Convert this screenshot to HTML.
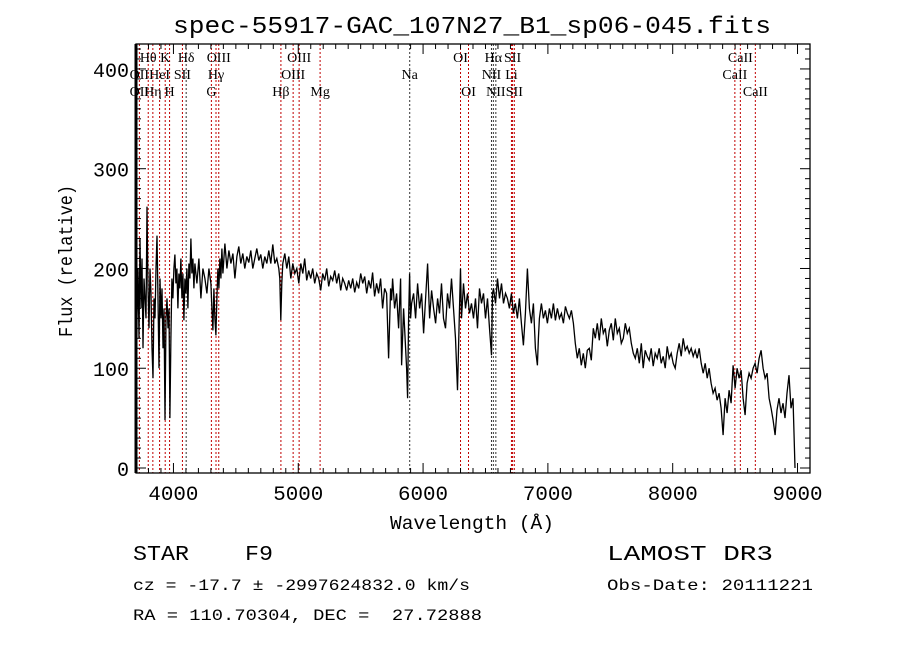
<!DOCTYPE html>
<html><head><meta charset="utf-8"><style>
html,body{margin:0;padding:0;background:#fff;}
svg{display:block;}
text{font-family:"Liberation Mono",monospace;fill:#000;white-space:pre;}
.ll{font-family:"Liberation Serif",serif;font-size:14px;}
</style></head><body>
<svg id="chart" width="900" height="649" viewBox="0 0 900 649" xmlns="http://www.w3.org/2000/svg" xml:space="preserve">
<rect width="900" height="649" fill="#fff"/>
<text x="472" y="33" font-size="24" text-anchor="middle" textLength="598" lengthAdjust="spacingAndGlyphs">spec-55917-GAC_107N27_B1_sp06-045.fits</text>
<g id="lines"></g>
<g id="labels"></g>
<path id="spec" fill="none" stroke="#000" stroke-width="1.3"/>
<g id="axes"></g>
<text x="472" y="529" font-size="19" text-anchor="middle" textLength="164" lengthAdjust="spacingAndGlyphs">Wavelength (Å)</text>
<text transform="translate(72,261) rotate(-90)" font-size="19" text-anchor="middle" textLength="152" lengthAdjust="spacingAndGlyphs">Flux (relative)</text>
<text x="133" y="560" font-size="21" textLength="140" lengthAdjust="spacingAndGlyphs">STAR    F9</text>
<text x="607" y="560" font-size="21" textLength="166" lengthAdjust="spacingAndGlyphs">LAMOST DR3</text>
<text x="133" y="590" font-size="16" textLength="337" lengthAdjust="spacingAndGlyphs">cz = -17.7 ± -2997624832.0 km/s</text>
<text x="607" y="590" font-size="16" textLength="206" lengthAdjust="spacingAndGlyphs">Obs-Date: 20111221</text>
<text x="133" y="620" font-size="16" textLength="349" lengthAdjust="spacingAndGlyphs">RA = 110.70304, DEC =  27.72888</text>
</svg>
<script>
const wavelengths=[3700,3708,3716,3724,3732,3740,3748,3756,3764,3780,3788,3796,3804,3812,3820,3828,3836,3844,3852,3860,3868,3876,3884,3892,3900,3908,3916,3924,3932,3940,3948,3956,3964,3972,3980,3988,3996,4004,4012,4020,4028,4036,4044,4052,4060,4068,4076,4084,4092,4100,4108,4116,4124,4132,4140,4148,4156,4164,4172,4188,4204,4220,4236,4252,4268,4284,4300,4308,4316,4324,4332,4340,4348,4356,4364,4372,4380,4388,4396,4412,4428,4444,4460,4476,4492,4508,4524,4540,4556,4572,4588,4604,4620,4636,4652,4668,4684,4700,4716,4732,4748,4764,4780,4796,4812,4828,4844,4852,4860,4868,4876,4892,4908,4924,4940,4956,4972,4988,5004,5020,5036,5052,5068,5084,5100,5116,5132,5148,5164,5180,5196,5212,5228,5244,5260,5276,5292,5308,5324,5340,5356,5372,5388,5404,5420,5436,5452,5468,5484,5500,5516,5532,5548,5564,5580,5596,5612,5628,5644,5660,5676,5692,5708,5724,5740,5748,5756,5772,5788,5804,5820,5828,5844,5852,5868,5876,5884,5892,5900,5908,5924,5940,5956,5972,5988,6004,6020,6036,6052,6068,6084,6100,6116,6132,6148,6164,6180,6196,6212,6228,6244,6260,6276,6292,6300,6308,6324,6340,6356,6372,6388,6404,6420,6436,6452,6468,6484,6500,6516,6532,6548,6556,6564,6580,6596,6612,6628,6644,6660,6676,6692,6708,6724,6740,6756,6772,6788,6804,6820,6836,6852,6868,6884,6900,6916,6924,6932,6948,6964,6980,6996,7012,7028,7044,7060,7076,7092,7108,7124,7140,7156,7172,7188,7204,7220,7236,7252,7268,7284,7300,7316,7332,7348,7364,7380,7396,7412,7428,7444,7460,7476,7492,7508,7524,7540,7556,7572,7588,7604,7620,7636,7652,7668,7684,7700,7716,7732,7748,7764,7780,7796,7812,7828,7844,7860,7876,7892,7908,7924,7940,7956,7972,7988,8004,8020,8036,8052,8068,8084,8100,8116,8132,8148,8164,8180,8196,8212,8228,8244,8260,8276,8292,8308,8324,8340,8356,8372,8388,8404,8420,8436,8452,8468,8484,8500,8516,8532,8548,8564,8580,8596,8612,8628,8644,8660,8676,8692,8708,8724,8740,8756,8772,8788,8804,8820,8836,8852,8868,8884,8900,8916,8932,8948,8964,8980,8996];
const flux=[0,150,200,130,230,160,210,120,190,150,262,180,140,200,175,120,90,170,150,200,233,170,100,190,150,180,120,160,48,150,170,140,160,50,130,190,170,200,214,185,200,160,195,180,210,170,195,148,190,175,200,160,205,190,230,195,210,180,205,185,210,170,200,190,175,200,185,160,138,180,150,133,170,200,180,210,190,220,195,225,200,218,205,215,190,212,222,205,215,200,212,206,218,200,210,220,208,214,200,212,205,218,205,224,205,210,200,190,148,185,205,215,200,212,190,205,195,200,185,205,195,210,188,198,190,200,185,195,190,178,195,188,200,182,192,188,198,185,195,178,190,185,178,188,180,190,176,186,180,195,185,192,175,188,180,196,172,185,175,190,160,180,175,110,180,168,190,160,175,140,190,103,160,140,100,70,150,195,150,165,175,150,185,160,175,135,170,205,150,178,160,145,170,155,185,150,140,175,160,190,160,130,78,160,200,150,185,160,175,155,165,150,170,140,180,165,175,150,170,140,113,175,180,165,190,170,185,165,175,170,160,175,155,165,150,170,145,123,155,200,160,145,165,120,103,130,150,165,150,158,145,160,150,165,148,160,150,155,145,162,155,150,158,145,125,110,120,103,115,100,118,120,108,140,130,145,128,150,135,140,122,138,145,128,150,135,140,125,130,145,135,140,125,115,110,120,105,125,100,118,112,108,120,102,115,110,120,105,112,100,122,110,115,105,100,115,125,112,130,118,122,115,120,112,118,110,120,105,95,105,90,100,85,75,80,68,75,60,33,70,55,78,65,103,80,100,90,98,70,53,85,95,90,100,105,95,110,118,100,90,95,70,60,48,33,58,70,55,65,50,75,93,60,70,0];
const lineWaves=[3727,3798,3835,3889,3934,3969,4072,4102,4304,4341,4363,4861,4959,5007,5175,5893,6300,6364,6548,6563,6583,6708,6717,6731,8498,8542,8662];
const lineColors=["r","r","r","r","r","r","r","k","r","r","r","r","r","r","r","k","r","r","k","k","k","r","r","r","r","r","r"];
const labelNames=["Hθ","K","Hδ","OIII","OIII","OI","Hα","SII","CaII","OII","HeI","SII","Hγ","OIII","Na","NII","Li","CaII","OII","Hη","H","G","Hβ","Mg","OI","NII","SII","CaII"];
const labelWaves=[3798,3934,4102,4363,5007,6300,6563,6717,8542,3727,3889,4072,4341,4959,5893,6548,6708,8498,3727,3835,3969,4304,4861,5175,6364,6583,6731,8662];
const labelRows=[0,0,0,0,0,0,0,0,0,1,1,1,1,1,1,1,1,1,2,2,2,2,2,2,2,2,2,2];
const xTicks=[4000,5000,6000,7000,8000,9000];
const yTicks=[0,100,200,300,400];

const L=136,R=810,T=44,B=473,XMIN=3700,XMAX=9100,YMIN=-5,YMAX=425;
const sx=w=>L+(w-XMIN)/(XMAX-XMIN)*(R-L);
const sy=f=>B-(f-YMIN)/(YMAX-YMIN)*(B-T);
const NS="http://www.w3.org/2000/svg";
function mk(tag,attrs,parent){const e=document.createElementNS(NS,tag);for(const k in attrs)e.setAttribute(k,attrs[k]);parent.appendChild(e);return e;}

const lg=document.getElementById('lines');
lineWaves.forEach((w,i)=>{
  const e=mk('line',{x1:sx(w),x2:sx(w),y1:T,y2:B,stroke:lineColors[i]==="r"?"#c00000":"#333","stroke-width":1,"stroke-dasharray":"2,2"},lg);
  
  
});
const lab=document.getElementById('labels');
const rowY=[62,79,96];
labelNames.forEach((n,i)=>{
  const t=mk('text',{x:sx(labelWaves[i]),y:rowY[labelRows[i]],"text-anchor":"middle",class:"ll"},lab);
  t.textContent=n;
  
  
});

let d="";
wavelengths.forEach((w,i)=>{d+=(i?"L":"M")+sx(w).toFixed(1)+","+sy(flux[i]).toFixed(1);});
document.getElementById('spec').setAttribute('d',d);

const ax=document.getElementById('axes');
mk('rect',{x:L,y:T,width:R-L,height:B-T,fill:"none",stroke:"#000","stroke-width":1.3},ax);
mk('line',{x1:L,x2:L,y1:T,y2:B,stroke:"#000","stroke-width":3},ax);
for(let w=3700;w<=9100;w+=100){
  const major=w%1000===0, len=major?10:5;
  mk('line',{x1:sx(w),x2:sx(w),y1:B,y2:B-len,stroke:"#000","stroke-width":1},ax);
  mk('line',{x1:sx(w),x2:sx(w),y1:T,y2:T+len,stroke:"#000","stroke-width":1},ax);
}
xTicks.forEach(w=>{
  const t=mk('text',{x:sx(w),y:B+27,"font-size":20,"text-anchor":"middle",textLength:50,lengthAdjust:"spacingAndGlyphs"},ax);
  t.textContent=w;
  
  
});
for(let f=0;f<=420;f+=10){
  const major=f%100===0, len=major?10:5;
  mk('line',{x1:L,x2:L+len,y1:sy(f),y2:sy(f),stroke:"#000","stroke-width":1},ax);
  mk('line',{x1:R,x2:R-len,y1:sy(f),y2:sy(f),stroke:"#000","stroke-width":1},ax);
}
yTicks.forEach(f=>{
  const t=mk('text',{x:129,y:sy(f)+8,"font-size":20,"text-anchor":"end"},ax);
  t.textContent=f;
  
  
});
</script>
</body></html>
